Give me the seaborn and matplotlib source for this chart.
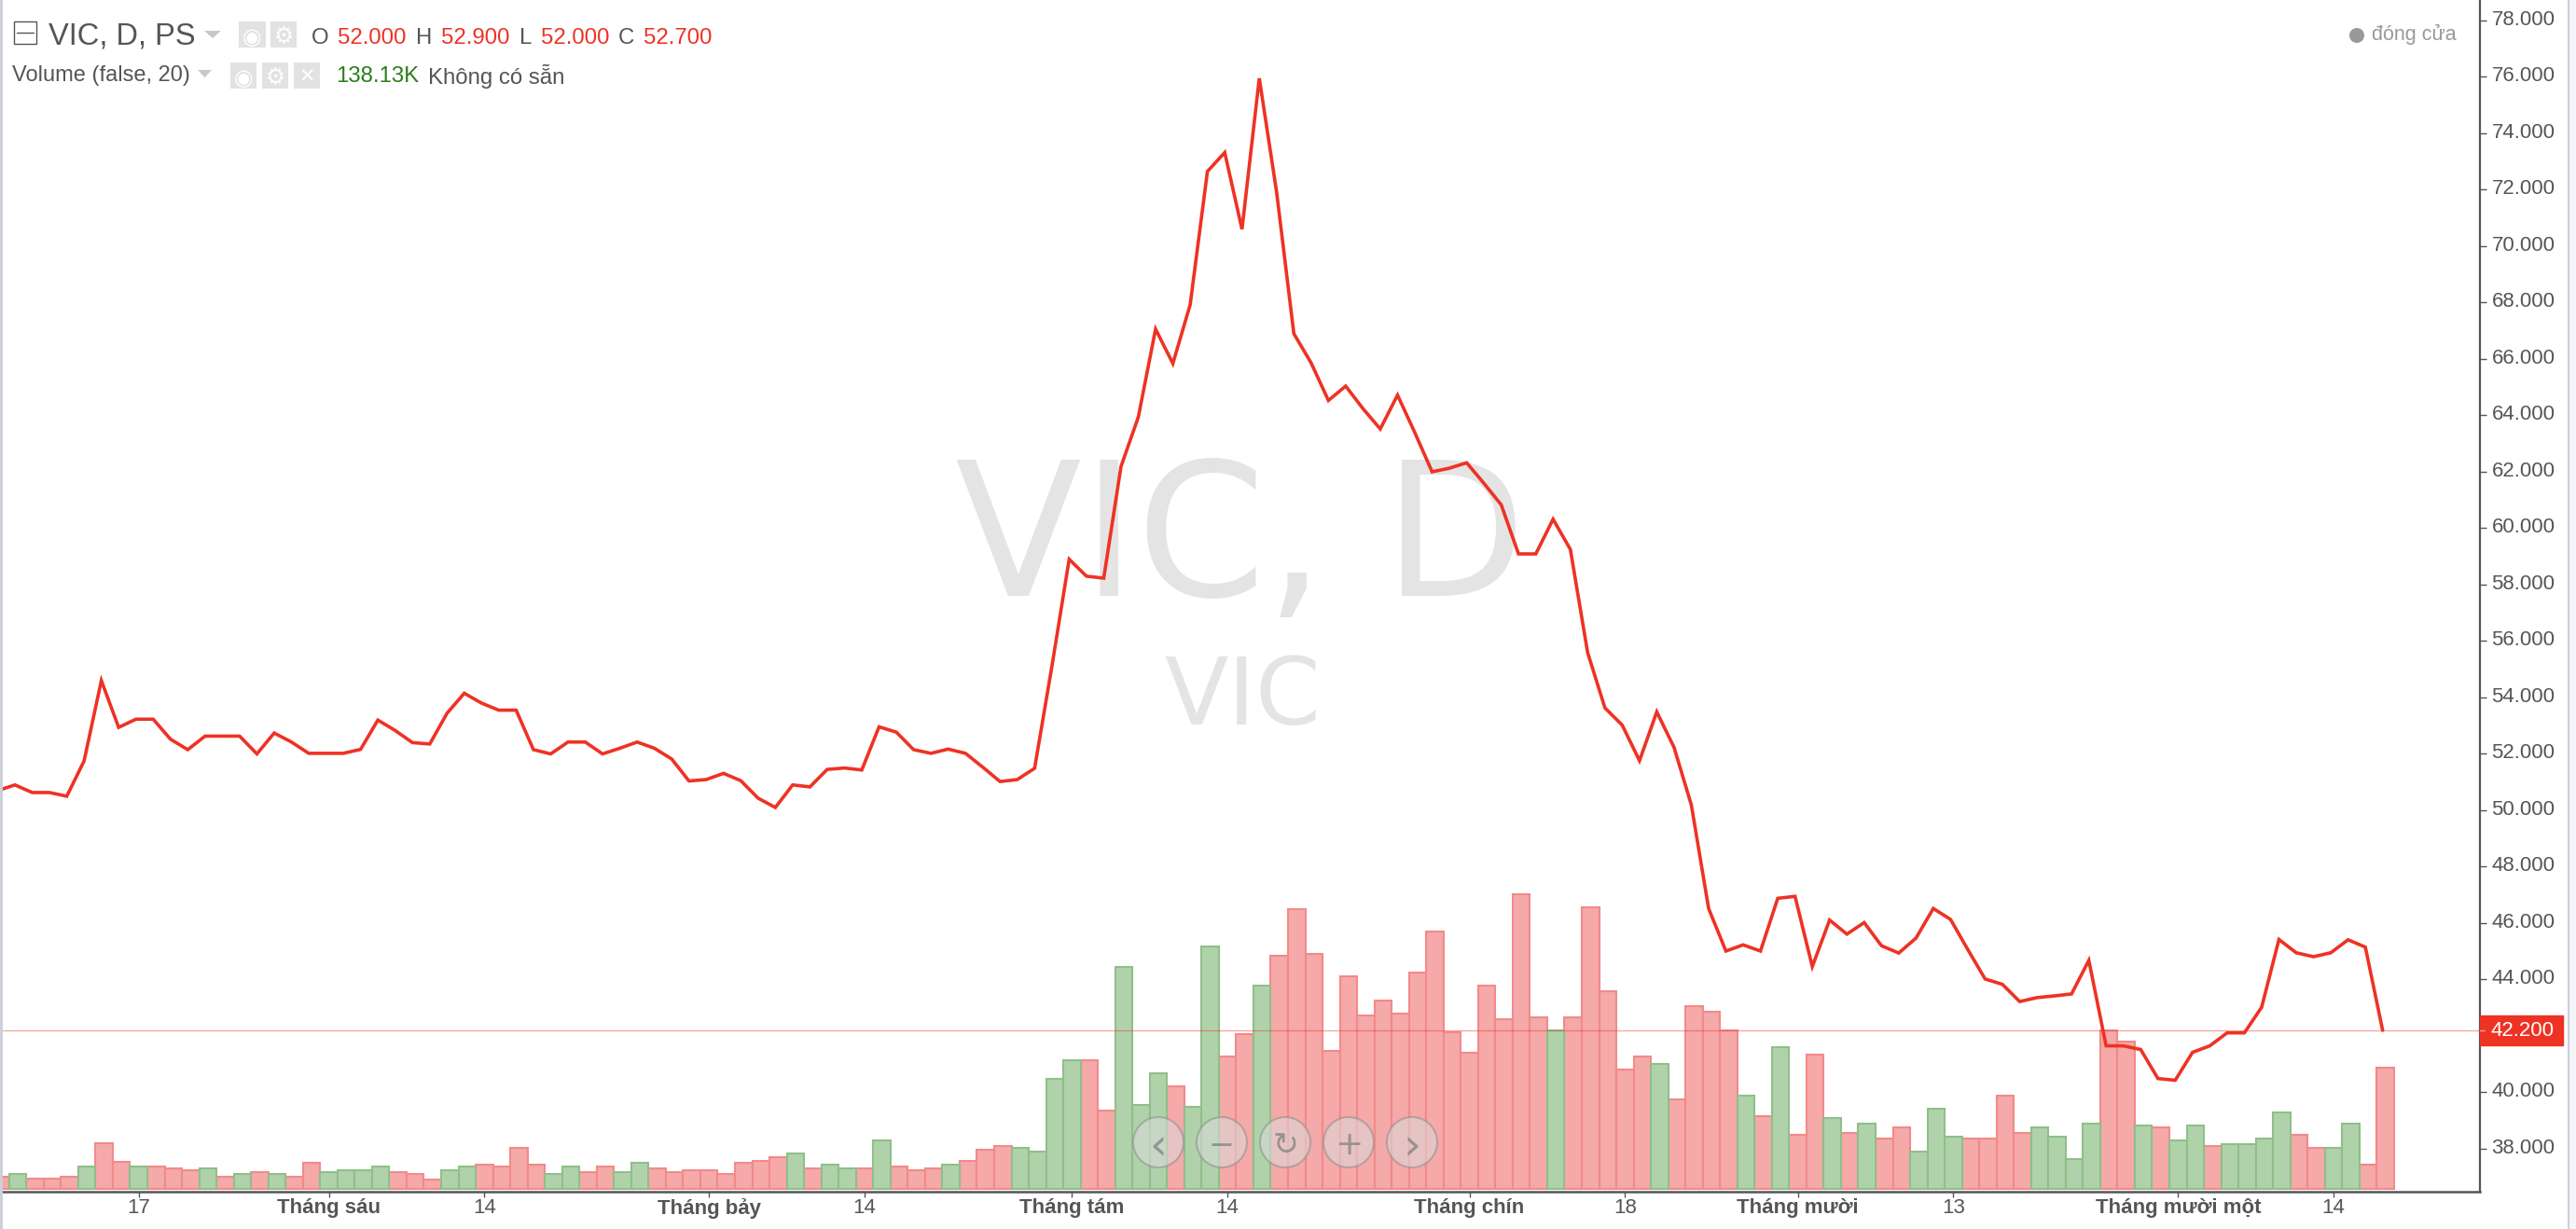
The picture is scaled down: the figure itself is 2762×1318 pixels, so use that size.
import pandas as pd
import matplotlib.pyplot as plt
from matplotlib.patches import Circle, Rectangle, Polygon
from matplotlib.transforms import ScaledTranslation
import seaborn as sns

W, H = 2762, 1318

# Price closes, one per session
price = [
    50.70, 50.90, 50.63, 50.63, 50.50, 51.75, 54.60, 52.94, 53.23, 53.23,
    52.52, 52.15, 52.63, 52.63, 52.63, 52.00, 52.74, 52.42, 52.02, 52.02,
    52.02, 52.16, 53.20, 52.83, 52.40, 52.35, 53.44, 54.15, 53.80, 53.55,
    53.55, 52.15, 52.00, 52.42, 52.42, 52.00, 52.20, 52.42, 52.20, 51.82,
    51.04, 51.09, 51.31, 51.05, 50.43, 50.10, 50.90, 50.83, 51.45, 51.50,
    51.43, 52.96, 52.77, 52.15, 52.02, 52.17, 52.02, 51.53, 51.02, 51.09,
    51.49, 55.10, 58.90, 58.30, 58.23, 62.19, 63.94, 67.06, 65.84, 67.92,
    72.65, 73.32, 70.60, 75.95, 71.93, 66.90, 65.86, 64.53, 65.04, 64.24,
    63.52, 64.72, 63.39, 62.00, 62.13, 62.32, 61.59, 60.83, 59.09, 59.09,
    60.32, 59.25, 55.59, 53.63, 53.02, 51.76, 53.49, 52.23, 50.19, 46.52,
    45.01, 45.23, 45.01, 46.88, 46.95, 44.46, 46.11, 45.61, 46.02, 45.20,
    44.94, 45.47, 46.52, 46.13, 45.06, 44.02, 43.83, 43.22, 43.36, 43.42,
    43.49, 44.68, 41.65, 41.65, 41.52, 40.49, 40.43, 41.42, 41.65, 42.11,
    42.11, 43.02, 45.42, 44.95, 44.81, 44.95, 45.41, 45.15, 42.20,
]

# Volume bars
volume = [
    13.3, 15.7, 11.3, 11.3, 13.3, 23.7, 49.3, 29.3, 23.7, 23.7,
    21.7, 19.7, 21.7, 13.3, 15.7, 17.7, 15.7, 13.3, 27.7, 17.7,
    19.7, 19.7, 23.7, 17.7, 15.7, 9.7, 19.7, 23.7, 25.7, 23.7,
    43.7, 25.7, 15.7, 23.7, 17.7, 23.7, 17.7, 27.7, 21.7, 17.7,
    19.7, 19.7, 15.7, 27.7, 29.7, 33.7, 37.7, 21.7, 25.7, 21.7,
    21.7, 51.7, 23.7, 19.7, 21.7, 25.7, 29.7, 41.7, 45.7, 43.7,
    39.7, 117.7, 137.7, 137.7, 83.7, 237.7, 89.7, 123.7, 109.7, 87.7,
    259.7, 141.7, 165.7, 217.7, 249.7, 299.7, 251.7, 147.7, 227.7, 185.7,
    201.7, 187.7, 231.7, 275.7, 167.7, 145.7, 217.7, 181.7, 315.7, 183.7,
    169.7, 183.7, 301.7, 211.7, 127.7, 141.7, 133.7, 95.7, 195.7, 189.7,
    169.7, 99.7, 77.7, 151.7, 57.7, 143.7, 75.7, 59.7, 69.7, 53.7,
    65.7, 39.7, 85.7, 55.7, 53.7, 53.7, 99.7, 59.7, 65.7, 55.7,
    31.7, 69.7, 169.7, 157.7, 67.7, 65.7, 51.7, 67.7, 45.7, 47.7,
    47.7, 53.7, 81.7, 57.7, 43.7, 43.7, 69.7, 25.7, 129.7,
]

# r = down day, g = up day
side = list(
    "rgrrrgrrgr" "rrgrgrgrrg" "gggrrrggrr" "rrggrrggrr" "rrrrrrgrgg"
    "rgrrrgrrrg" "gggrrgggrg" "grrgrrrrrr" "rrrrrrrrrr" "grrrrrgrrr"
    "rgrgrrgrgr" "rgggrrrrgg" "ggrrgrggrg" "gggrrggrr"
)

tick_days = [8, 19, 28, 41, 50, 62, 71, 85, 94, 104, 113, 126, 135]
tick_labels = [
    "17", "Tháng sáu", "14", "Tháng bảy", "14", "Tháng tám", "14",
    "Tháng chín", "18", "Tháng mười", "13", "Tháng mười một", "14",
]
# 42 sits under the last price tag
price_ticks = [v for v in range(38, 80, 2) if v != 42]

days = list(range(len(price)))
df = pd.DataFrame({"day": days, "price": price, "volume": volume, "side": side})

sns.set_style("white")
plt.rcParams["font.family"] = ["Liberation Sans", "DejaVu Sans"]

TEXT = "#555555"
RED = "#EE3224"
GREEN = "#2E7D1E"

fig = plt.figure(figsize=(W / 100, H / 100), dpi=100)
rect = [3 / W, (H - 1278) / H, 2656 / W, 1278 / H]

# Volume pane sits behind the price line
ax_vol = fig.add_axes(rect, zorder=1)
ax_vol.patch.set_visible(False)
sns.barplot(
    data=df,
    x="day",
    y="volume",
    hue="side",
    hue_order=["r", "g"],
    palette={"r": "#F5A9A9", "g": "#B0D2AB"},
    native_scale=True,
    dodge=False,
    width=1,
    saturation=1,
    errorbar=None,
    legend=False,
    ax=ax_vol,
)
for bars, edge in zip(ax_vol.containers, ["#F28A8A", "#8FBF88"]):
    for bar in bars:
        bar.set_edgecolor(edge)
        bar.set_linewidth(1.5)
ax_vol.set_xlim(0.135, 143.47)
ax_vol.set_ylim(-3, 1275)
ax_vol.set_yticks([])
ax_vol.set_xticks(tick_days)
ax_vol.set_xticklabels(tick_labels, fontsize=16, color=TEXT)
for label, text in zip(ax_vol.get_xticklabels(), tick_labels):
    if text.startswith("Tháng"):
        label.set_fontweight("bold")
ax_vol.tick_params(axis="x", bottom=True, length=4, width=1, color=TEXT, pad=1)
ax_vol.set_xlabel("")
ax_vol.set_ylabel("")
for name in ["top", "left", "right"]:
    ax_vol.spines[name].set_visible(False)
ax_vol.spines["bottom"].set_color(TEXT)
ax_vol.spines["bottom"].set_linewidth(1.8)

# Price pane
ax = fig.add_axes(rect, zorder=2)
ax.patch.set_visible(False)
sns.lineplot(
    data=df,
    x="day",
    y="price",
    color=RED,
    linewidth=2.6,
    errorbar=None,
    solid_joinstyle="miter",
    ax=ax,
)
ax.axhline(price[-1], color=RED, linewidth=0.9, alpha=0.45)
ax.set_xlim(0.297, 143.63)
ax.set_ylim(36.479, 78.727)
ax.set_xticks([])
ax.yaxis.tick_right()
ax.set_yticks(price_ticks)
ax.set_yticklabels([f"{v:.3f}" for v in price_ticks], fontsize=16, color=TEXT)
ax.tick_params(axis="y", right=True, length=5, width=1, color=TEXT, pad=4)
label_shift = ScaledTranslation(0, 3 / 100, fig.dpi_scale_trans)
for label in ax.get_yticklabels():
    label.set_transform(label.get_transform() + label_shift)
ax.set_xlabel("")
ax.set_ylabel("")
for name in ["top", "left", "bottom"]:
    ax.spines[name].set_visible(False)
ax.spines["right"].set_color(TEXT)
ax.spines["right"].set_linewidth(1.6)

# Last price tag on the axis
tag = ax.get_yaxis_transform()
ax.add_patch(Rectangle((1, price[-1] - 0.53), 89 / 2656, 1.06, transform=tag,
                       color=RED, clip_on=False, zorder=5))
ax.plot([1, 1 + 5 / 2656], [price[-1], price[-1]], transform=tag, color="#F6A79F",
        linewidth=0.9, clip_on=False, zorder=6)
ax.text(1 + 11 / 2656, price[-1] + 0.06, f"{price[-1]:.3f}", transform=tag, color="white",
        fontsize=16, va="center_baseline", ha="left", zorder=6)

# Watermark
fig.text(1330 / W, 1 - 584 / H, "VIC, D", fontsize=143, family="DejaVu Sans", color="#E4E4E4",
         ha="center", va="center", zorder=-1)
fig.text(1332 / W, 1 - 750 / H, "VIC", fontsize=72, family="DejaVu Sans", color="#E4E4E4",
         ha="center", va="center", zorder=-1)

# Chart chrome in pixel coordinates
ov = fig.add_axes([0, 0, 1, 1], zorder=3)
ov.set_xlim(0, W)
ov.set_ylim(H, 0)
ov.axis("off")

ov.add_patch(Rectangle((0, 0), 3, H, color="#CDCFD9", lw=0))
ov.add_patch(Rectangle((2753, 0), 9, H, color="#F3F5F9", lw=0))
ov.add_patch(Rectangle((2753, 0), 2.5, H, color="#CDCFD9", lw=0))

ov.add_patch(Rectangle((15, 23), 24, 24, fill=False, edgecolor=TEXT, lw=1))
ov.plot([18, 36], [35, 35], color=TEXT, lw=1)
ov.text(52, 39, "VIC, D, PS", fontsize=23.5, color=TEXT, va="center")
ov.add_patch(Polygon([(219, 33), (237, 33), (228, 41)], color="#C8C8C8", lw=0))


def icon_box(x0, x1, y0, y1, glyph, size):
    ov.add_patch(Rectangle((x0, y0), x1 - x0, y1 - y0, color="#E2E2E2", lw=0))
    ov.text((x0 + x1) / 2, (y0 + y1) / 2, glyph, fontsize=size, color="white",
            family="DejaVu Sans", ha="center", va="center_baseline")


icon_box(256, 285, 23, 51, "◉", 17)
icon_box(290, 318, 23, 51, "⚙", 17)
icon_box(247, 275, 67, 95, "◉", 17)
icon_box(281, 309, 67, 95, "⚙", 17)
icon_box(315, 343, 67, 95, "✕", 15)

for x, letter, x_val, val in [(334, "O", 362, "52.000"), (446, "H", 473, "52.900"),
                              (557, "L", 580, "52.000"), (663, "C", 690, "52.700")]:
    ov.text(x, 41, letter, fontsize=17.3, color=TEXT, va="center")
    ov.text(x_val, 41, val, fontsize=17.3, color=RED, va="center")

ov.text(13, 81, "Volume (false, 20)", fontsize=17, color=TEXT, va="center")
ov.add_patch(Polygon([(212, 75), (227, 75), (219.5, 83)], color="#C8C8C8", lw=0))
ov.text(360, 82, "138.13K", fontsize=17.3, color=GREEN, va="center")
ov.text(459, 82, "Không có sẵn", fontsize=17.3, color=TEXT, va="center")

ov.add_patch(Circle((2527, 38), 8, color="#999999", lw=0))
ov.text(2543, 37, "đóng cửa", fontsize=15.5, color="#999999", va="center")

# Navigation buttons floating over the volume pane
for x, glyph, size in zip([1242, 1310, 1378, 1446, 1514], ["‹", "−", "↻", "+", "›"],
                          [34, 24, 24, 26, 34]):
    ov.add_patch(Circle((x, 1225), 27, facecolor=(0.86, 0.86, 0.86, 0.55),
                        edgecolor=(0.55, 0.55, 0.55, 0.55), lw=1.5))
    ov.text(x, 1225, glyph, fontsize=size, color=(0.5, 0.5, 0.5, 0.75), family="DejaVu Sans",
            ha="center", va="center_baseline")

fig.savefig("out.png", dpi=100)
